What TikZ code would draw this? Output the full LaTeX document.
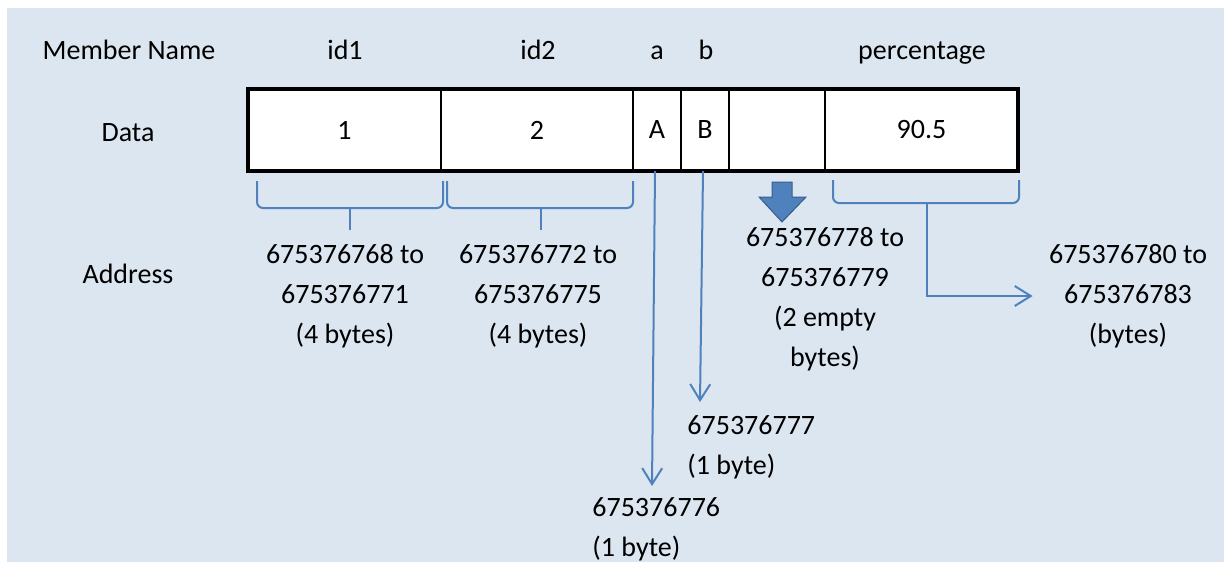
\documentclass[tikz,border=0pt]{standalone}
\usepackage{fontspec}
\setmainfont{Carlito}
\usetikzlibrary{arrows.meta}
\definecolor{bg}{RGB}{220,230,241}
\definecolor{ln}{RGB}{79,129,189}
\definecolor{blk}{RGB}{79,129,189}
\definecolor{blkd}{RGB}{56,93,138}
\begin{document}
\begin{tikzpicture}[x=0.5pt,y=-0.5pt,
  every node/.style={font=\fontsize{14}{20}\selectfont, inner sep=0pt, text=black},
  lbl/.style={anchor=base},
  cell/.style={draw=black, line width=1pt, fill=white, minimum height=41pt, anchor=west, outer sep=0pt},
  addr/.style={align=center},
  addrl/.style={align=left, anchor=west},
  brace/.style={draw=ln, line width=1pt, rounded corners=3pt},
  conn/.style={draw=ln, line width=1pt, -{Straight Barb[length=8pt,width=10pt]}}]
\useasboundingbox (0,0) rectangle (1224,562);
\fill[bg] (7,8) rectangle (1224,562);
% labels
\node[lbl] (mn) at (129,59) {Member Name};
\node[lbl] (nid1) at (345,59) {id1};
\node[lbl] (nid2) at (538,59) {id2};
\node[lbl] (na) at (657,59) {a};
\node[lbl] (nb) at (706,59) {b};
\node[lbl] (np) at (922,59) {percentage};
\node[lbl] (data) at (128,141) {Data};
\node[lbl] (address) at (128,283) {Address};
% table
\node[cell, minimum width=96.5pt] (c1) at (248,130) {1};
\node[cell, minimum width=96pt] (c2) at (c1.east) {2};
\node[cell, minimum width=24pt] (c3) at (c2.east) {A};
\node[cell, minimum width=24pt] (c4) at (c3.east) {B};
\node[cell, minimum width=48pt] (c5) at (c4.east) {};
\node[cell, minimum width=96.5pt] (c6) at (c5.east) {90.5};
\draw[line width=2pt] (c1.north west) rectangle (c6.south east);
% braces
\draw[brace] (257,181) |- (350,208) -| (443,181);
\draw[brace] (350,208) -- (350,230);
\draw[brace] (447,181) |- (541,208) -| (633,181);
\draw[brace] (541,208) -- (541,230);
\draw[brace] (833,180) |- (927,203) -| (1019,180);
\coordinate (ptip) at (927,203);
% block arrow
\fill[blk, draw=blkd, line width=0.5pt] (772,182) -- (792,182) -- (792,197) -- (806,197) -- (782,222) -- (759,197) -- (772,197) -- cycle;
% address texts
\node[addr] (t1) at (345,296) {675376768 to\\675376771\\(4 bytes)};
\node[addr] (t2) at (538,296) {675376772 to\\675376775\\(4 bytes)};
\node[addr] (t5) at (825,299) {675376778 to\\675376779\\(2 empty\\bytes)};
\node[addr] (t6) at (1128,296) {675376780 to\\675376783\\(bytes)};
\node[addrl] (t3) at (592,529) {675376776\\(1 byte)};
\node[addrl] (t4) at (687,447) {675376777\\(1 byte)};
% connectors
\coordinate (a3) at (652,486);
\coordinate (a4) at (700,402);
\draw[conn] ([xshift=-1pt]c3.south) -- (a3);
\draw[conn] ([xshift=-1pt]c4.south) -- (a4);
\draw[conn, shorten >=8pt] (ptip) |- (t6.west);
\end{tikzpicture}
\end{document}
